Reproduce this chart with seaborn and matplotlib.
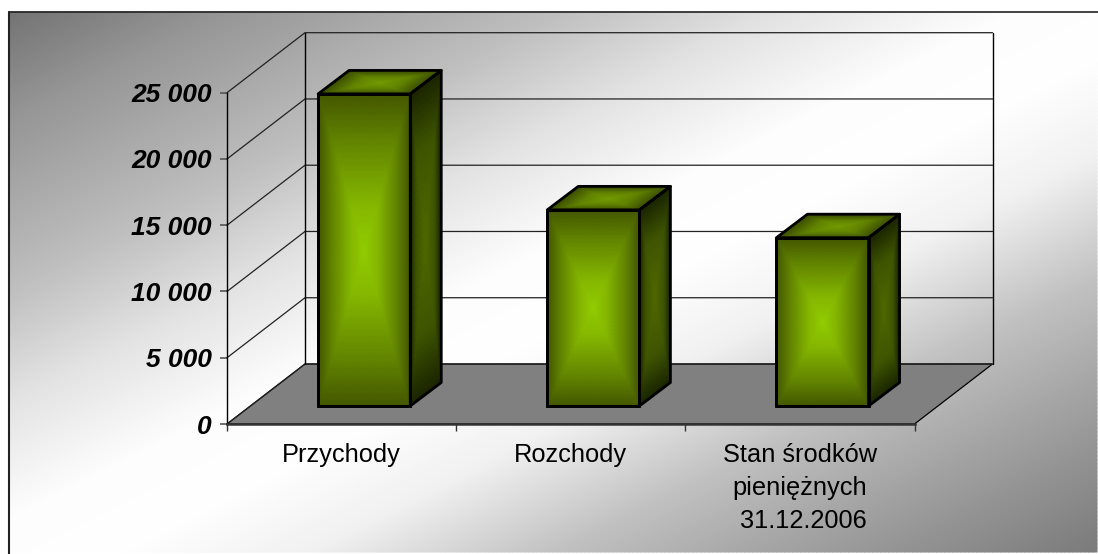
import numpy as np
import matplotlib
matplotlib.use('Agg')
import matplotlib.pyplot as plt
from matplotlib.colors import LinearSegmentedColormap
from matplotlib.patches import Polygon, Rectangle
from matplotlib.transforms import Affine2D
import seaborn as sns

categories = ['Przychody', 'Rozchody', 'Stan środków\npieniężnych\n 31.12.2006']
values = [23550, 14800, 12700]
y_ticks = [0, 5000, 10000, 15000, 20000, 25000]
y_labels = ['0', '5 000', '10 000', '15 000', '20 000', '25 000']

sns.set_style('white')
plt.rcParams['font.family'] = ['Liberation Sans', 'DejaVu Sans']

W, H = 1098, 554
fig = plt.figure(figsize=(W / 100, H / 100), dpi=100, facecolor='white')

# background gradient inside the chart frame
bg = fig.add_axes([0, 0, 1, 1], zorder=0)
bg.set_xlim(0, W)
bg.set_ylim(H, 0)
bg.axis('off')
yy, xx = np.mgrid[12:H + 1:4, 9:W + 1:4]
t = (xx / W + yy / H) / 2
grey = np.interp(t, [0, 0.114, 0.265, 0.366, 0.47, 0.55, 0.64, 0.753, 0.843, 0.91, 1],
                 [110, 150, 190, 226, 252, 254, 240, 192, 165, 146, 122])
bg.pcolormesh(xx, yy, grey, cmap='gray', vmin=0, vmax=255, shading='gouraud')
bg.plot([9, 9], [12, H], color='#222222', lw=1.5)
bg.plot([9, W], [12, 12], color='#222222', lw=1.2)

# front plane of the chart = the axes
ax = fig.add_axes([227 / W, (H - 424) / H, 687.5 / W, 331.3 / H], zorder=1)
ax.patch.set_alpha(0)

positions = np.arange(len(categories))
sns.barplot(x=positions, y=values, native_scale=True, width=0.402, color='#8fc800',
            edgecolor='black', linewidth=2, ax=ax, zorder=5)
ax.set_xlim(-0.5, 2.5)
ax.set_ylim(0, 25000)

px_x = 687.5 / 3
px_y = 331.3 / 25000
# depth of the box and of each bar, pixels -> data
wall_dx, wall_dy = 78 / px_x, 60 / px_y
bar_dx, bar_dy = 31 / px_x, 23.5 / px_y
shift_x, shift_y = 22.6 / px_x, 18 / px_y

# floor and walls
x0, x1 = ax.get_xlim()
ax.add_patch(Polygon([(x0, 0), (x0 + wall_dx, wall_dy), (x1 + wall_dx, wall_dy), (x1, 0)],
                     closed=True, facecolor='#808080', edgecolor='black', lw=0.9, clip_on=False, zorder=1))
for v in y_ticks:
    ax.plot([x0, x0 + wall_dx, x1 + wall_dx], [v, v + wall_dy, v + wall_dy],
            color='#222222', lw=0.9, clip_on=False, zorder=1)
top = y_ticks[-1] + wall_dy
ax.plot([x0 + wall_dx] * 2, [wall_dy, top], color='black', lw=1, clip_on=False, zorder=1)
ax.plot([x1 + wall_dx] * 2, [wall_dy, top], color='black', lw=1, clip_on=False, zorder=1)

front_cmap = LinearSegmentedColormap.from_list(
    'front', [(0, '#445700'), (0.3, '#628400'), (0.7, '#84b600'), (1, '#92cc00')])
side_cmap = LinearSegmentedColormap.from_list(
    'side', [(0, '#1a2500'), (0.4, '#3f5400'), (1, '#506800')])
top_cmap = LinearSegmentedColormap.from_list(
    'top', [(0, '#3c4e00'), (0.5, '#628400'), (1, '#739c00')])

n = 50
uu, vv = np.meshgrid(np.linspace(-1, 1, n), np.linspace(-1, 1, n))
box = 1 - np.maximum(np.abs(uu), np.abs(vv))
a = (uu + 1) / 2
b = (vv + 1) / 2


def face(px, py, ex, ey, fx, fy, cmap):
    # parallelogram with corner (px, py) and edge vectors e, f
    X = px + a * ex + b * fx
    Y = py + a * ey + b * fy
    ax.pcolormesh(X, Y, box, cmap=cmap, vmin=0, vmax=1, shading='gouraud', clip_on=False, zorder=4)
    corners = [(px, py), (px + ex, py + ey), (px + ex + fx, py + ey + fy), (px + fx, py + fy)]
    ax.add_patch(Polygon(corners, closed=True, fill=False, edgecolor='black', lw=2,
                         joinstyle='round', clip_on=False, zorder=5))


# gradients on the bars that seaborn laid out, moved back into the box
bars = [p for p in ax.patches if isinstance(p, Rectangle)]
for p in bars:
    left = p.get_x() + shift_x
    w = p.get_width()
    h = p.get_height()
    p.set_transform(Affine2D().translate(shift_x, shift_y) + ax.transData)
    p.set_facecolor('none')
    p.set_clip_on(False)
    face(left, shift_y, w, 0, 0, h, front_cmap)
    face(left + w, shift_y, bar_dx, bar_dy, 0, h, side_cmap)
    face(left, shift_y + h, w, 0, bar_dx, bar_dy, top_cmap)

# axes
ax.set_xlim(x0, x1)
ax.set_ylim(0, 25000)
sns.despine(ax=ax, top=True, right=True)
ax.spines['left'].set_color('black')
ax.spines['left'].set_linewidth(1)
ax.spines['bottom'].set_color('#333333')
ax.spines['bottom'].set_linewidth(1.8)

ax.set_yticks(y_ticks)
ax.set_yticklabels(y_labels, fontsize=19, fontweight='bold', fontstyle='italic', color='black')
ax.tick_params(axis='y', which='major', left=True, length=5, width=1.2, color='#555555', pad=6)
ax.set_xticks(positions)
ax.set_xticklabels(categories, fontsize=18.3, color='black', linespacing=1.46)
ax.set_xticks([-0.5, 0.5, 1.5, 2.5], minor=True)
ax.tick_params(axis='x', which='minor', bottom=True, length=5, width=1, color='#333333')
ax.tick_params(axis='x', which='major', bottom=False, length=0, pad=14)
ax.set_xlabel('')
ax.set_ylabel('')

fig.savefig('out.png', dpi=100)
